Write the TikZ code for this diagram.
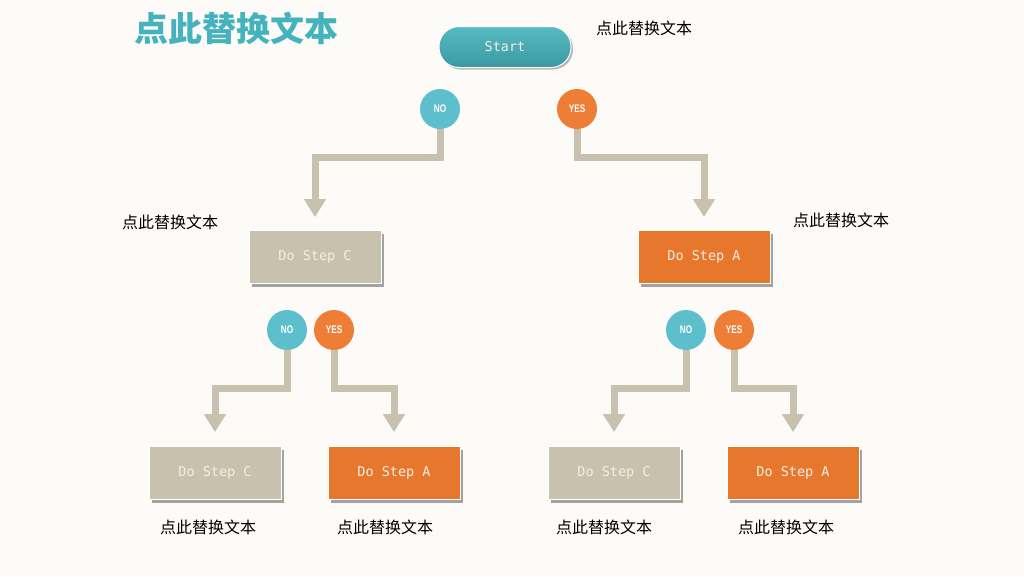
\documentclass[tikz,border=0pt]{standalone}
\usepackage{fontspec}
\usepackage{graphicx}
\setmonofont{DejaVu Sans Mono}
\newfontfamily\cjk{Noto Sans CJK SC}
\newfontfamily\tagfont{Liberation Sans}
\usetikzlibrary{arrows.meta,shadows}
\definecolor{bgcol}{HTML}{FDFBF8}
\definecolor{tealc}{HTML}{45B3BD}
\definecolor{bubteal}{HTML}{5DBFCC}
\definecolor{bubor}{HTML}{EE7D36}
\definecolor{boxor}{HTML}{E8772E}
\definecolor{beige}{HTML}{C8C1AD}
\definecolor{txtc}{HTML}{F4EFE2}
\newcommand{\tagtxt}[1]{\scalebox{0.75}[1]{#1}}
\begin{document}
\begin{tikzpicture}[x=1pt,y=-1pt] % flow chart, px units
    \tikzstyle{every node}+=[inner sep=0pt]
    \tikzstyle{note}=[font=\cjk\fontsize{16}{16}\selectfont, black]
    \tikzstyle{stepbox}=[minimum width=132pt, minimum height=53pt, draw=white, line width=0.8pt,
        font=\ttfamily\fontsize{13.5}{13.5}\selectfont, text=txtc,
        drop shadow={shadow xshift=3pt, shadow yshift=-3pt, fill=black!45, opacity=0.8}]
    \tikzstyle{bubble}=[circle, minimum size=40pt, text=white, font=\tagfont\bfseries\fontsize{11}{11}\selectfont]
    \tikzstyle{flow}=[draw=beige, line width=7pt, -{Triangle[width=21pt,length=18pt]}]
    \fill [bgcol] (0,0) rectangle (1024,576);
    \useasboundingbox (0,0) rectangle (1024,576);
    % title and start
    \node [font=\cjk\bfseries\fontsize{34}{34}\selectfont, text=tealc] (title) at (236,28) {点此替换文本};
    \node [rounded corners=20pt, minimum width=132pt, minimum height=41pt, draw=white, line width=1pt,
        top color=tealc!90!white, bottom color=tealc!85!black,
        drop shadow={shadow xshift=2pt, shadow yshift=-2pt, fill=black!40, opacity=0.7},
        font=\ttfamily\fontsize{13.5}{13.5}\selectfont, text=txtc] (start) at (505,47) {Start};
    \node [note] (n0) at (644,28) {点此替换文本};
    % first decision
    \node [bubble, fill=bubteal] (no1) at (440,109) {\tagtxt{NO}};
    \node [bubble, fill=bubor] (yes1) at (577,109) {\tagtxt{YES}};
    \node [stepbox, fill=beige] (c1) at (315,257) {Do Step C};
    \node [stepbox, fill=boxor] (a1) at (704,257) {Do Step A};
    \node [note] (n1) at (170,222) {点此替换文本};
    \node [note] (n2) at (841,220) {点此替换文本};
    \coordinate (bend1) at (0,157);
    % second decisions
    \node [bubble, fill=bubteal] (no2) at (287,330) {\tagtxt{NO}};
    \node [bubble, fill=bubor] (yes2) at (334,330) {\tagtxt{YES}};
    \node [bubble, fill=bubteal] (no3) at (686,330) {\tagtxt{NO}};
    \node [bubble, fill=bubor] (yes3) at (734,330) {\tagtxt{YES}};
    \node [stepbox, fill=beige] (c2) at (215,473) {Do Step C};
    \node [stepbox, fill=boxor] (a2) at (394,473) {Do Step A};
    \node [stepbox, fill=beige] (c3) at (614,473) {Do Step C};
    \node [stepbox, fill=boxor] (a3) at (793,473) {Do Step A};
    \node [note] (n3) at (208,527) {点此替换文本};
    \node [note] (n4) at (385,527) {点此替换文本};
    \node [note] (n5) at (604,527) {点此替换文本};
    \node [note] (n6) at (786,527) {点此替换文本};
    \coordinate (bend2) at (0,388);
    % connectors
    \draw [flow, shorten >=13pt] (no1.south) -- (no1.south |- bend1) -| (c1.north);
    \draw [flow, shorten >=13pt] (yes1.south) -- (yes1.south |- bend1) -| (a1.north);
    \draw [flow, shorten >=14pt] (no2.south) -- (no2.south |- bend2) -| (c2.north);
    \draw [flow, shorten >=14pt] (yes2.south) -- (yes2.south |- bend2) -| (a2.north);
    \draw [flow, shorten >=14pt] (no3.south) -- (no3.south |- bend2) -| (c3.north);
    \draw [flow, shorten >=14pt] (yes3.south) -- (yes3.south |- bend2) -| (a3.north);
\end{tikzpicture}
\end{document}
